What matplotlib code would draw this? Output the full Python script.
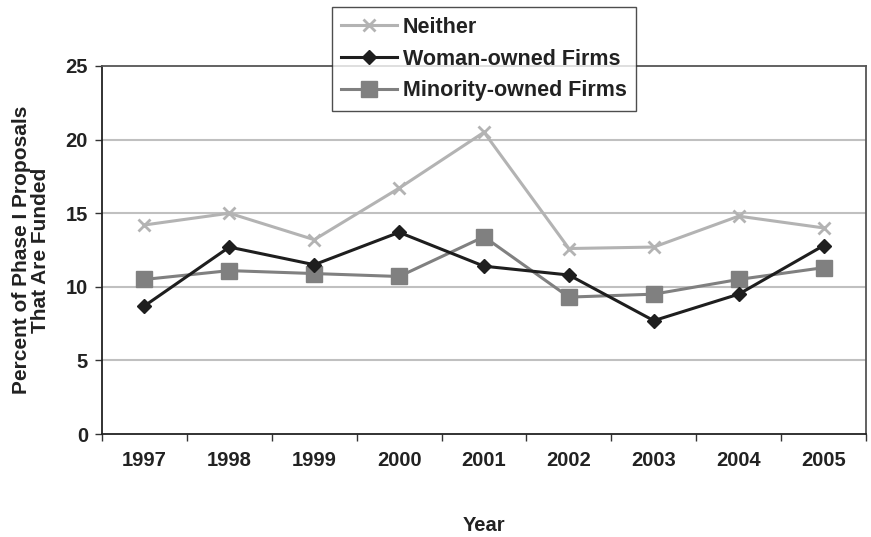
import numpy as np
import matplotlib.pyplot as plt

years = ['1997', '1998', '1999', '2000', '2001', '2002', '2003', '2004', '2005']
neither = [14.2, 15.0, 13.2, 16.7, 20.5, 12.6, 12.7, 14.8, 14.0]
woman_owned = [8.7, 12.7, 11.5, 13.7, 11.4, 10.8, 7.7, 9.5, 12.8]
minority_owned = [10.5, 11.1, 10.9, 10.7, 13.4, 9.3, 9.5, 10.5, 11.3]

plt.rcParams['font.family'] = ['Liberation Sans', 'DejaVu Sans']
plt.rcParams['font.weight'] = 'bold'

fig = plt.figure(figsize=(8.71, 5.37), dpi=100)
ax = fig.add_axes([0.1171, 0.1918, 0.8772, 0.6853])

x = np.arange(len(years))
ax.plot(x, neither, color='#b3b3b3', lw=2.2, marker='x', ms=9, mew=2,
        label='Neither', zorder=3)
ax.plot(x, woman_owned, color='#1e1e1e', lw=2.2, marker='D', ms=7,
        label='Woman-owned Firms', zorder=4)
ax.plot(x, minority_owned, color='#808080', lw=2.2, marker='s', ms=12,
        label='Minority-owned Firms', zorder=3)

ax.set_xlim(-0.5, len(years) - 0.5)
ax.set_ylim(0, 25)
ax.set_yticks([0, 5, 10, 15, 20, 25])
for y in [5, 10, 15, 20]:
    ax.axhline(y, color='#c0c0c0', lw=1.5, zorder=1)

ax.set_xticks(x)
ax.set_xticklabels(years, fontsize=14.5, fontweight='bold', color='#222222')
ax.set_xticks(np.arange(-0.5, len(years)), minor=True)
ax.tick_params(axis='x', which='major', length=0, pad=12)
ax.tick_params(axis='x', which='minor', length=5, width=1, color='#333333')
ax.tick_params(axis='y', length=5, width=1, color='#333333', labelsize=14.5,
               labelcolor='#222222', pad=5)

for side in ['left', 'bottom']:
    ax.spines[side].set_color('#222222')
    ax.spines[side].set_linewidth(1.3)
for side in ['top', 'right']:
    ax.spines[side].set_color('#555555')
    ax.spines[side].set_linewidth(1.3)

ax.set_xlabel('Year', fontsize=14.5, fontweight='bold', color='#222222', labelpad=33)
ax.set_ylabel('Percent of Phase I Proposals\nThat Are Funded', fontsize=15,
              fontweight='bold', color='#222222', labelpad=11, linespacing=1.05)

leg = ax.legend(loc='upper center', bbox_to_anchor=(0.5, 1.16), ncol=1,
                fontsize=15.5, frameon=True, fancybox=False, edgecolor='#222222',
                handlelength=2.6, borderpad=0.45, labelspacing=0.5,
                handletextpad=0.25, borderaxespad=0)
leg.get_frame().set_linewidth(1.0)
leg.set_zorder(10)
for t in leg.get_texts():
    t.set_color('#222222')

fig.savefig('out.png', dpi=100)
